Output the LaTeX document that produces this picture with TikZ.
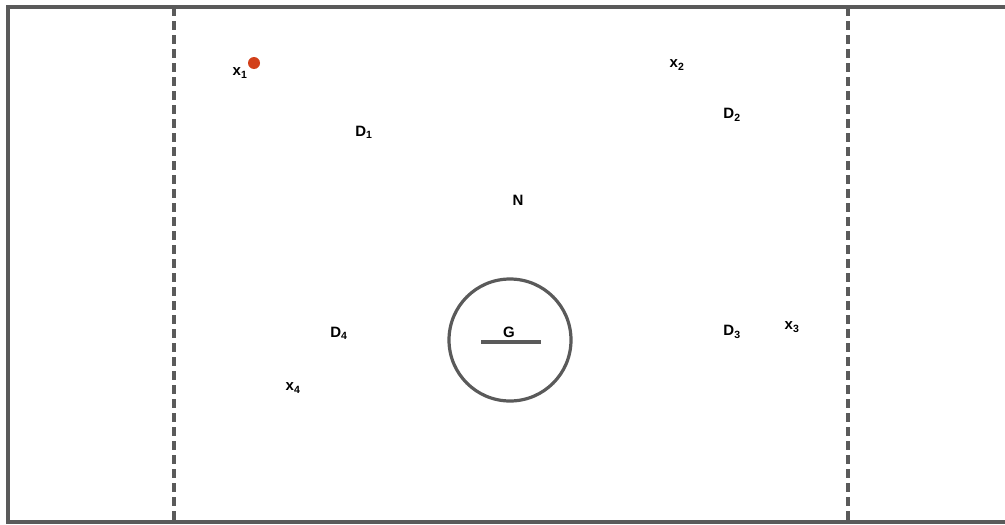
\documentclass[tikz,border=0pt]{standalone}
\usepackage{fontspec}
\setmainfont{Liberation Sans}
\definecolor{framegray}{HTML}{5A5A5A}
\definecolor{dotred}{HTML}{D2401A}
\tikzset{
  lab/.style={font=\bfseries\fontsize{15}{17}\selectfont, inner sep=0pt},
  edge/.style={framegray, line width=3.2pt},
}
\begin{document}
\begin{tikzpicture}[x=1pt,y=-1pt]
    \useasboundingbox (0,0) rectangle (1005,525);
    % frame
    \draw[edge] (1008,7) -- (8,7) -- (8,522) -- (1008,522);
    \foreach \x in {174,848}
    \draw[edge, dash pattern=on 9pt off 5pt] (\x,7) -- (\x,522);
    % circle with bar
    \draw[edge] (510,340) circle [radius=61];
    \draw[edge] (481,342) -- (541,342);
    \node[lab, anchor=south] (G) at (509,338) {G};
    % labels
    \foreach \n/\x/\y/\t in {x1/240/73/x\textsubscript{1}, x2/677/65/x\textsubscript{2},
      x3/792/327/x\textsubscript{3}, x4/293/388/x\textsubscript{4},
      D1/364/132/D\textsubscript{1}, D2/732/115/D\textsubscript{2},
      D3/732/332/D\textsubscript{3}, D4/339/333/D\textsubscript{4}}
    \node[lab] (\n) at (\x,\y) {\t};
    \node[lab] (N) at (518,200) {N};
    \fill[dotred] (254,63) circle [radius=6];
\end{tikzpicture}
\end{document}
